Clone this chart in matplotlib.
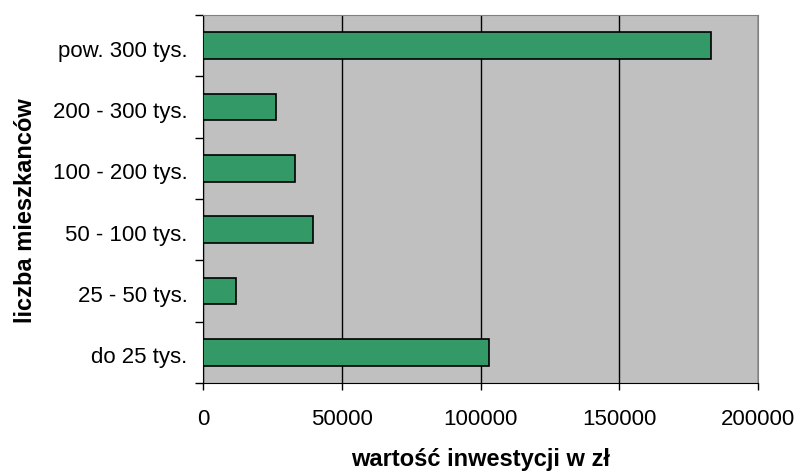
import matplotlib.pyplot as plt
import matplotlib.transforms as mtransforms
import numpy as np

plt.rcParams['font.family'] = ['Liberation Sans', 'DejaVu Sans']

# liczba mieszkańców -> wartość inwestycji
kategorie = ['do 25 tys.', '25 - 50 tys.', '50 - 100 tys.', '100 - 200 tys.',
             '200 - 300 tys.', 'pow. 300 tys.']
wartosci = [103200, 11900, 39500, 33100, 26300, 183000]
x_ticks = [0, 50000, 100000, 150000, 200000]

fig = plt.figure(figsize=(7.98, 4.73), dpi=100)
ax = fig.add_axes([0.2544, 0.190, 0.6955, 0.778])
ax.set_facecolor('#C0C0C0')

y = np.arange(len(kategorie))
ax.barh(y, wartosci, height=0.435, color='#339966', edgecolor='black',
        linewidth=1.2, zorder=3)

ax.set_xlim(0, 200000)
ax.set_ylim(-0.5, len(kategorie) - 0.5)
ax.set_xticks(x_ticks)
ax.set_xticklabels([str(v) for v in x_ticks], fontsize=16)
ax.tick_params(axis='x', length=5, width=1, pad=13.5)
ax.xaxis.grid(True, color='black', linewidth=1, zorder=1)

# kreski na granicach kategorii, opisy pośrodku
ax.set_yticks(np.arange(len(kategorie) + 1) - 0.5)
ax.set_yticklabels([])
ax.tick_params(axis='y', which='major', length=6, width=1)
ax.set_yticks(y, minor=True)
ax.set_yticklabels(kategorie, minor=True, fontsize=16)
ax.tick_params(axis='y', which='minor', length=0, pad=11)
# opisy lekko poniżej środka kategorii
przesun = mtransforms.ScaledTranslation(0, -0.03, fig.dpi_scale_trans)
for lbl in ax.get_yticklabels(minor=True):
    lbl.set_transform(lbl.get_transform() + przesun)

for s in ['top', 'right']:
    ax.spines[s].set_color('#808080')
for s in ['left', 'bottom']:
    ax.spines[s].set_color('black')

ax.set_xlabel('wartość inwestycji w zł', fontsize=17, fontweight='bold')
ax.xaxis.label.set_va('baseline')
ax.xaxis.set_label_coords(0.5, -0.2255)
ax.set_ylabel('liczba mieszkanców', fontsize=17, fontweight='bold')
ax.yaxis.label.set_va('baseline')
ax.yaxis.set_label_coords(-0.309, 0.47)

fig.savefig('out.png', dpi=100)
